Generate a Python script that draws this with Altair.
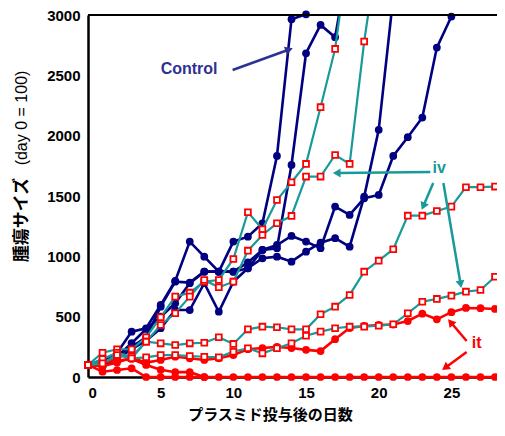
import math
import altair as alt
import pandas as pd

# ---------------- data ----------------
control_1 = [100, 140, 200, 376, 404, 597, 796, 1122, 997, 873, 1122, 1163, 1274, 1832, 2965, 3006]
control_2 = [100, 120, 180, 250, 329, 583, 790, 782, 873, 873, 873, 901, 1053, 1067, 1757, 2683, 2918, 2816, 3500]
control_3 = [100, 90, 150, 230, 300, 404, 555, 555, 777, 541, 790, 901, 984, 997, 956, 1039, 1113, 1150, 1080, 1495, 2048, 3150]
control_4 = [100, 130, 170, 280, 398, 500, 611, 777, 873, 873, 873, 950, 1053, 1094, 1169, 1122, 1067, 1412, 1343, 1481, 1509, 1832, 1987, 2150, 2730, 2987]

iv_1 = [100, 201, 230, 230, 329, 495, 666, 699, 790, 804, 978, 1365, 1224, 1467, 1614, 1766, 2236, 2719, 3600]
iv_2 = [100, 113, 182, 155, 293, 431, 528, 666, 804, 744, 790, 1047, 1177, 1274, 1335, 1661, 1661, 1840, 1766, 2780, 3600]
iv_3 = [100, 150, 200, 170, 293, 279, 265, 279, 284, 329, 274, 395, 417, 412, 395, 395, 520, 583, 680, 873, 964, 1059, 1337, 1337, 1376, 1412, 1573, 1573, 1578]
iv_4 = [100, 113, 182, 155, 163, 182, 182, 174, 168, 163, 210, 238, 196, 238, 279, 342, 376, 404, 417, 417, 425, 437, 528, 624, 647, 674, 707, 721, 831]

it_1 = [100, 44, 58, 72] + [0] * 25
it_2 = [100, 120, 135, 150, 100, 60, 40, 40, 0]
it_3 = [100, 90, 120, 160, 119, 141, 168, 155, 141, 155, 182, 230, 240, 250, 240, 225, 215, 313, 406, 423, 431, 435, 464, 525, 478, 537, 572, 570, 564]

x_ticks = [0, 5, 10, 15, 20, 25]
y_ticks = [0, 500, 1000, 1500, 2000, 2500, 3000]

x_title = "プラスミド投与後の日数"
y_title_jp = "腫瘍サイズ"
y_title_en = "(day 0 = 100)"

ann_labels = ["Control", "iv", "it"]
ann_day = [5.0, 23.7, 26.4]
ann_value = [2552, 1732, 282]

# arrows: (start day, start value, end day, end value, group)
arrow_from_day = [9.95, 23.55, 23.75, 24.45, 26.05, 26.05]
arrow_from_val = [2544, 1699, 1608, 1608, 298, 207]
arrow_to_day = [13.75, 17.2, 23.1, 25.62, 25.0, 24.65]
arrow_to_val = [2710, 1691, 1425, 779, 447, 83]
arrow_group = ["c", "iv", "iv", "iv", "it", "it"]

# ---------------- styling ----------------
NAVY = "#000080"
TEAL = "#199A9A"
RED = "#FF0000"
CTRL_TXT = "#2E3192"
W, H = 407, 362
XMAX, YMAX = 28, 3000
LATIN = "Liberation Sans"
CJK = "Noto Sans CJK JP"


def frame(group, series):
    rows = []
    for i, vals in enumerate(series):
        for d, v in enumerate(vals):
            rows.append({"group": group, "mouse": f"{group}{i}", "day": d, "value": v})
    return pd.DataFrame(rows)


ctrl = frame("control", [control_1, control_2, control_3, control_4])
iv = frame("iv", [iv_1, iv_2, iv_3, iv_4])
it = frame("it", [it_1, it_2, it_3])

x_enc = alt.X(
    "day:Q",
    scale=alt.Scale(domain=[0, XMAX], nice=False, zero=False),
    axis=alt.Axis(
        values=x_ticks, format="d", grid=False, ticks=False, tickSize=0, labelPadding=8,
        labelFont=LATIN, labelFontSize=15, labelFontWeight="bold", labelColor="black",
        domainColor="black", domainWidth=2.5,
        title=x_title, titleFont=CJK, titleFontSize=15, titleFontWeight="bold",
        titleColor="black", titleX=182, titleY=30,
    ),
)
y_enc = alt.Y(
    "value:Q",
    scale=alt.Scale(domain=[0, YMAX], nice=False),
    axis=alt.Axis(
        values=y_ticks, format="d", grid=False, ticks=False, tickSize=0, labelPadding=8,
        labelFont=LATIN, labelFontSize=15, labelFontWeight="bold", labelColor="black",
        domainColor="black", domainWidth=2.5, title=None,
    ),
)

def lines(df, color, width, clip):
    return alt.Chart(df).mark_line(color=color, strokeWidth=width, clip=clip).encode(
        x=x_enc, y=y_enc, detail="mouse:N"
    )

ctrl_l = lines(ctrl, NAVY, 2.6, True)
ctrl_p = alt.Chart(ctrl[ctrl.value <= 3050]).mark_circle(color=NAVY, size=60, opacity=1).encode(x=x_enc, y=y_enc)
it_l = lines(it, RED, 2.6, False)
it_p = alt.Chart(it).mark_circle(color=RED, size=60, opacity=1).encode(x=x_enc, y=y_enc)
iv_l = lines(iv, TEAL, 2.2, True)
iv_p = alt.Chart(iv[iv.value <= 3050]).mark_point(
    shape="square", filled=True, fill="white", stroke=RED, strokeWidth=1.8, size=34, opacity=1
).encode(x=x_enc, y=y_enc)

# arrows
px_day = W / XMAX
px_val = H / YMAX
arrow_color = {"c": CTRL_TXT, "iv": TEAL, "it": RED}
arr_rows, head_rows = [], []
for i in range(len(arrow_group)):
    col = arrow_color[arrow_group[i]]
    arr_rows.append({"a": i, "day": arrow_from_day[i], "value": arrow_from_val[i], "col": col, "o": 0})
    arr_rows.append({"a": i, "day": arrow_to_day[i], "value": arrow_to_val[i], "col": col, "o": 1})
    dx = (arrow_to_day[i] - arrow_from_day[i]) * px_day
    dy = -(arrow_to_val[i] - arrow_from_val[i]) * px_val
    ang = math.degrees(math.atan2(dx, -dy)) % 360
    head_rows.append({"day": arrow_to_day[i], "value": arrow_to_val[i], "col": col, "ang": ang})
arr_df = pd.DataFrame(arr_rows)
head_df = pd.DataFrame(head_rows)

arrows = alt.Chart(arr_df).mark_line(strokeWidth=2.5).encode(
    x=x_enc, y=y_enc, detail="a:N", order="o:Q", color=alt.Color("col:N", scale=None)
)
heads = alt.Chart(head_df).mark_point(shape="triangle", filled=True, size=80, opacity=1).encode(
    x=x_enc, y=y_enc, angle=alt.Angle("ang:Q", scale=None), color=alt.Color("col:N", scale=None)
)

ann_df = pd.DataFrame({"label": ann_labels, "day": ann_day, "value": ann_value,
                       "col": [CTRL_TXT, TEAL, RED]})
ann = alt.Chart(ann_df).mark_text(
    font=LATIN, fontSize=16, fontWeight="bold", align="left", baseline="middle"
).encode(x=x_enc, y=y_enc, text="label:N", color=alt.Color("col:N", scale=None))

ytitle_jp = alt.Chart(pd.DataFrame({"t": [y_title_jp]})).mark_text(
    font=CJK, fontSize=17, fontWeight="bold", angle=270, align="center", baseline="middle", color="black"
).encode(x=alt.value(-66), y=alt.value(205), text="t:N")
ytitle_en = alt.Chart(pd.DataFrame({"t": [y_title_en]})).mark_text(
    font=LATIN, fontSize=16, angle=270, align="center", baseline="middle", color="black"
).encode(x=alt.value(-66), y=alt.value(103), text="t:N")

top_rule = alt.Chart(pd.DataFrame({"value": [YMAX]})).mark_rule(color="black", strokeWidth=2).encode(
    y=y_enc, x=alt.value(0), x2=alt.value(W + 2),
)

chart = alt.layer(
    ctrl_l, ctrl_p, it_l, it_p, iv_l, iv_p, arrows, heads, ann, ytitle_jp, ytitle_en, top_rule
).properties(
    width=W, height=H,
    autosize=alt.AutoSizeParams(type="none"),
    padding={"left": 80, "top": 7, "right": 2, "bottom": 46},
).configure_view(stroke=None)

chart.save("out.html", embed_options={"renderer": "svg", "actions": False})
